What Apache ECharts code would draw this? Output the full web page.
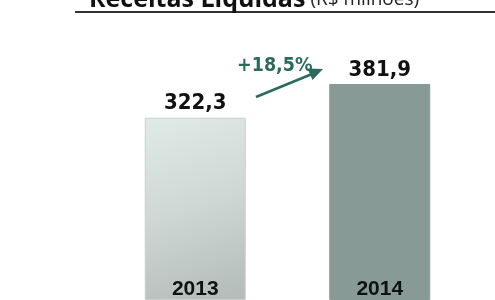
<!DOCTYPE html>
<html>
<head>
<meta charset="utf-8">
<script src="https://cdn.jsdelivr.net/npm/echarts@6/dist/echarts.min.js"></script>
<style>
  html, body { margin: 0; padding: 0; background: #fff; }
  #chart { width: 495px; height: 300px; }
</style>
</head>
<body>
<div id="chart"></div>
<script>
let years = ["2013", "2014"];
let receitas = [322.3, 381.9];
let growthLabel = "+18,5%";

let chart = echarts.init(document.getElementById("chart"));

let fmt = (v) => v.toFixed(1).replace(".", ",");

let barColors = [
  new echarts.graphic.LinearGradient(0, 0, 0.6, 1, [
    { offset: 0, color: "#e0eae7" },
    { offset: 0.5, color: "#cfd8d5" },
    { offset: 1, color: "#b5bebb" },
  ]),
  "#879a95",
];

let option = {
  backgroundColor: "#fff",
  animation: false,
  title: {
    left: 84,
    top: -18,
    text: "{b|Receitas Líquidas} {n|(R$ milhões)}",
    textStyle: {
      rich: {
        b: { fontFamily: "Open Sans", fontWeight: "bold", fontSize: 25, color: "#111" },
        n: { fontFamily: "Open Sans", fontWeight: "normal", fontSize: 19, color: "#222" },
      },
    },
  },
  grid: { left: 103, right: 23, top: 84, bottom: 0 },
  xAxis: {
    type: "category",
    data: years,
    z: 10,
    axisLine: { show: false },
    axisTick: { show: false },
    axisLabel: {
      inside: true,
      margin: 0,
      verticalAlign: "bottom",
      fontFamily: "Liberation Sans",
      fontWeight: "bold",
      fontSize: 21,
      color: "#111",
    },
  },
  yAxis: { type: "value", min: 0, max: 381.9, show: false },
  series: [
    {
      type: "bar",
      barWidth: 101,
      data: receitas.map((v, i) => ({
        value: v,
        itemStyle: {
          color: barColors[i],
          borderColor: i === 0 ? "#c9d0ce" : "#879a95",
          borderWidth: 1,
        },
      })),
      label: {
        show: true,
        position: "top",
        distance: 3,
        formatter: (p) => fmt(p.value),
        fontFamily: "DejaVu Sans Condensed",
        fontWeight: "bold",
        fontSize: 22,
        color: "#111",
      },
    },
  ],
  graphic: [
    {
      type: "line",
      shape: { x1: 75, y1: 12, x2: 495, y2: 12 },
      style: { stroke: "#333", lineWidth: 2 },
    },
    {
      type: "line",
      shape: { x1: 256, y1: 97, x2: 312, y2: 74 },
      style: { stroke: "#2b6b5d", lineWidth: 2.5 },
    },
    {
      type: "polygon",
      shape: { points: [[323, 69], [307.5, 68.5], [312.5, 80]] },
      style: { fill: "#2b6b5d" },
    },
    {
      type: "text",
      left: 237,
      top: 56,
      style: {
        text: growthLabel,
        font: "bold 19.5px 'DejaVu Sans Condensed'",
        fill: "#2b6b5d",
      },
    },
  ],
};

chart.setOption(option);
</script>
</body>
</html>
